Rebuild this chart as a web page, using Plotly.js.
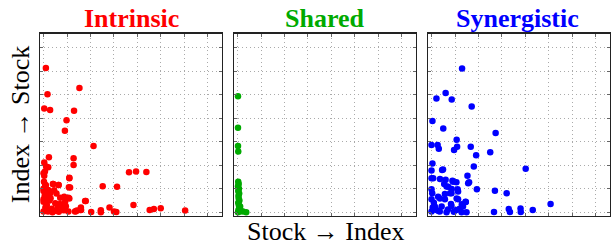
<!DOCTYPE html>
<html>
<head>
<meta charset="utf-8">
<script src="https://cdn.plot.ly/plotly-3.0.1.min.js"></script>
<style>
html,body{margin:0;padding:0;background:#fff;}
#chart{width:615px;height:247px;}
#chart .annotation-text{font-family:"Liberation Serif","Times New Roman",serif !important;}
</style>
</head>
<body>
<div id="chart"></div>
<script>
// Panel titles and axis labels
const panelTitles = ["Intrinsic", "Shared", "Synergistic"];
const xLabel = "Stock \u2192 Index";
const yLabel = "Index \u2192 Stock";

// Intrinsic (red) points
const intrinsicX = [0.10, 1.53, 0.17, 0.03, 0.28, 1.30, 0.98, 0.91, 2.13, 0.23, 1.28, 0.03, 1.28, 0.20, 0.06,
  3.64, 3.94, 4.38, 0.03, 1.10, 0.10, 0.41, 0.64, 1.08, 2.52, 3.13, 0.45, 0.00, 0.88, 1.10, 1.80, 3.83,
  1.59, 2.81, 4.99, 4.70, 4.52, 6.03, 1.42, 2.03, 2.44, 2.44, 3.00, 3.10, 1.60, 1.38,
  0.11, 0.00, 0.40, 0.64, 1.10, 1.13, 0.07, 0.00, 0.28, 0.71, 1.06, 0.92, 1.77, 0.00, 0.14, 0.50,
  0.57, 0.92, 1.56, 1.34, 0.00, 0.19, 1.06, 0.05, 0.12, 0.30, 0.35, 0.60, 0.80, 0.02, 0.20, 0.45,
  0.15, 0.70, 0.25, 0.08, 0.95, 0.38, 0.00, 0.10, 0.55, 0.85, 0.22, 0.65];
const intrinsicY = [6.13, 5.28, 5.02, 4.41, 4.35, 4.32, 3.91, 3.47, 2.82, 2.34, 2.30, 2.11, 2.01, 1.91, 1.73,
  1.70, 1.73, 1.71, 1.55, 1.47, 1.15, 1.20, 1.16, 1.06, 1.10, 1.08, 0.94, 1.00, 0.66, 0.58, 0.48, 0.31,
  0.20, 0.20, 0.17, 0.14, 0.10, 0.07, 0.07, 0.01, 0.08, 0.00, 0.03, 0.01, 0.10, 0.04,
  1.94, 1.66, 1.20, 1.16, 1.45, 1.05, 1.16, 0.90, 0.81, 0.62, 0.62, 0.45, 0.48, 0.45, 0.31, 0.38,
  0.10, 0.10, 0.10, 0.03, 0.03, 0.03, 0.03, 0.70, 0.55, 0.60, 0.15, 0.30, 0.20, 1.30, 0.95, 0.05,
  0.75, 0.35, 0.50, 0.20, 0.25, 0.00, 0.55, 0.12, 0.80, 0.08, 0.10, 0.02];

// Shared (green) points
const sharedX = [0.02, 0.02, 0.02, 0.03, 0.03, 0.05, 0.02, 0.06, 0.03, 0.07, 0.04, 0.05, 0.08, 0.03,
  0.06, 0.09, 0.04, 0.11, 0.23, 0.37, 0.15, 0.05, 0.02, 0.08];
const sharedY = [4.93, 3.59, 2.82, 2.58, 1.30, 1.20, 1.10, 1.00, 0.90, 0.80, 0.70, 0.60, 0.50, 0.40,
  0.30, 0.20, 0.10, 0.24, 0.03, 0.00, 0.05, 0.02, 0.00, 0.12];

// Synergistic (blue) points
const synergisticX = [1.30, 0.60, 0.21, 0.86, 1.71, 0.04, 0.50, 2.73, 1.07, 0.00, 0.26, 0.31, 1.09, 0.96,
  1.67, 2.50, 1.90, 0.04, 1.80, 4.01, 0.00, 0.49, 0.00, 0.07, 0.36, 0.60, 0.89, 1.06, 1.53, 1.60,
  0.54, 0.71, 1.93, 2.70, 3.20, 0.00, 0.86, 1.11, 0.57, 0.03, 0.79, 0.36, 1.07, 5.07, 1.46, 1.29,
  0.83, 2.66, 3.29, 3.34, 3.79, 3.80, 4.31,
  0.45, 0.92, 1.56, 0.64, 0.85, 1.13, 0.28, 0.57, 1.13, 1.45, 0.14, 0.43, 0.85, 1.34, 0.00, 0.35,
  0.64, 1.06, 1.28, 1.49, 0.10, 0.20, 0.00, 0.70, 0.05, 1.20, 0.30, 0.95];
const synergisticY = [6.11, 5.07, 4.84, 4.79, 4.50, 3.88, 3.56, 3.37, 3.08, 2.86, 2.86, 2.70, 2.78, 2.65,
  2.78, 2.55, 2.42, 2.07, 1.94, 1.85, 1.78, 1.82, 1.44, 1.44, 1.41, 1.38, 1.34, 1.27, 1.55, 1.27,
  1.20, 1.08, 0.98, 0.91, 0.81, 0.98, 0.99, 0.98, 0.78, 0.81, 0.81, 0.58, 0.58, 0.35, 0.44, 0.34,
  0.35, 0.01, 0.14, 0.01, 0.16, 0.01, 0.09,
  1.80, 1.30, 1.23, 1.09, 0.81, 0.88, 0.66, 0.55, 0.55, 0.45, 0.24, 0.24, 0.27, 0.24, 0.03, 0.03,
  0.00, 0.10, 0.00, 0.00, 0.40, 0.10, 0.55, 0.12, 0.20, 0.15, 0.05, 0.02];

const colors = ["#ff0000", "#00aa00", "#0000ff"];

function mk(x, y, c, xa, ya) {
  return {x: x, y: y, xaxis: xa, yaxis: ya, type: "scatter", mode: "markers",
    marker: {color: c, size: 6.5, line: {width: 0}}, hoverinfo: "skip", showlegend: false, cliponaxis: true};
}

const data = [
  mk(intrinsicX, intrinsicY, colors[0], "x", "y"),
  mk(sharedX, sharedY, colors[1], "x2", "y2"),
  mk(synergisticX, synergisticY, colors[2], "x3", "y3")
];

const axBase = {
  tick0: 0, dtick: 1, showticklabels: false, ticks: "inside", ticklen: 3, tickwidth: 1,
  tickcolor: "#666", showline: true, linecolor: "#222", linewidth: 1.3, mirror: "ticks",
  showgrid: true, gridcolor: "#aaa", griddash: "1px,3px", gridwidth: 1, zeroline: false
};
function ax(extra) { return Object.assign({}, axBase, extra); }

const xr = [-0.15, 7.6], yr = [-0.16, 7.6];
const yd = [31 / 247, 213.5 / 247];

const annotations = [
  {text: "<b>" + panelTitles[0] + "</b>", x: 0.1338, y: 0.993, xref: "paper", yref: "paper", showarrow: false,
    font: {size: 26, color: colors[0], family: "Liberation Serif"}},
  {text: "<b>" + panelTitles[1] + "</b>", x: 325 / 615, y: 0.993, xref: "paper", yref: "paper", showarrow: false,
    font: {size: 26, color: colors[1], family: "Liberation Serif"}},
  {text: "<b>" + panelTitles[2] + "</b>", x: 0.9455, y: 0.993, xref: "paper", yref: "paper", showarrow: false,
    font: {size: 26, color: colors[2], family: "Liberation Serif"}},
  {text: xLabel, x: 325 / 615, y: -0.005, xref: "paper", yref: "paper", showarrow: false,
    font: {size: 26, color: "#000", family: "Liberation Serif"}},
  {text: yLabel, x: 0.0065, y: 0.495, xref: "paper", yref: "paper", showarrow: false, textangle: -90,
    font: {size: 26, color: "#000", family: "Liberation Serif"}}
];

const layout = {
  width: 615, height: 247,
  margin: {l: 0, r: 0, t: 0, b: 0},
  paper_bgcolor: "#fff", plot_bgcolor: "#fff",
  xaxis: ax({domain: [40 / 615, 222 / 615], range: xr, anchor: "y"}),
  yaxis: ax({domain: yd, range: yr, anchor: "x"}),
  xaxis2: ax({domain: [234 / 615, 416 / 615], range: xr, anchor: "y2"}),
  yaxis2: ax({domain: yd, range: yr, anchor: "x2"}),
  xaxis3: ax({domain: [428 / 615, 610 / 615], range: xr, anchor: "y3"}),
  yaxis3: ax({domain: yd, range: yr, anchor: "x3"}),
  annotations: annotations
};

Plotly.newPlot("chart", data, layout, {staticPlot: true});
</script>
</body>
</html>
